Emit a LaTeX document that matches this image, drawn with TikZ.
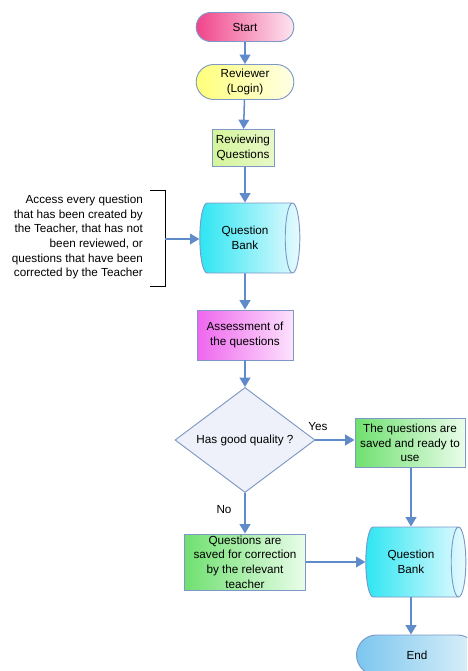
\documentclass[tikz,border=0pt]{standalone}
\usepackage{fontspec}
\setmainfont{Liberation Sans}
\usepackage{tikz}
\usetikzlibrary{shapes}
\usetikzlibrary{arrows.meta}

\definecolor{flowblue}{HTML}{5F8BCB}
\definecolor{edgeblue}{HTML}{7D98C6}
\definecolor{startL}{HTML}{F0448A}
\definecolor{startR}{HTML}{FDE6EF}
\definecolor{loginL}{HTML}{FFFF7A}
\definecolor{loginR}{HTML}{FFFFE6}
\definecolor{reviewL}{HTML}{D4F59A}
\definecolor{reviewR}{HTML}{E8F8C8}
\definecolor{bankL}{HTML}{2EE6F2}
\definecolor{bankR}{HTML}{E6FAFF}
\definecolor{assessL}{HTML}{EE66EE}
\definecolor{assessR}{HTML}{FDE2FD}
\definecolor{greenL}{HTML}{6FE06F}
\definecolor{greenR}{HTML}{EAFDEA}
\definecolor{endL}{HTML}{7CC6EE}
\definecolor{endR}{HTML}{DDF1FA}
\definecolor{askfill}{HTML}{EEF1FA}
\tikzset{
  every node/.style={font=\fontsize{10}{12.5}\selectfont},
  flow/.style={draw=flowblue, line width=1.3pt, -{Triangle[length=2.8mm,width=3.2mm]}},
  boxbase/.style={draw=edgeblue, line width=0.8pt, align=center, inner sep=1pt},
  terminal/.style={boxbase, rounded rectangle},
  stepbox/.style={boxbase, rectangle},
  store/.style={boxbase, cylinder, shape aspect=0.57,
    left color=bankL, right color=bankR},
  decision/.style={boxbase, diamond, aspect=1.33, fill=askfill},
}

\begin{document}
\begin{tikzpicture}[x=0.03cm,y=-0.03cm]
	\clip (0,0) rectangle (467,671);
	\useasboundingbox (0,0) rectangle (467,671);
    % main column
    \node[terminal, minimum width=3cm, minimum height=0.87cm,
      left color=startL, right color=startR] (start) at (245,27) {Start};
    \node[terminal, minimum width=3cm, minimum height=1.05cm,
      left color=loginL, right color=loginR] (login) at (245,82) {Reviewer\\(Login)};
    \node[stepbox, minimum width=1.86cm, minimum height=1.11cm,
      left color=reviewL, right color=reviewR] (review) at (243,148) {Reviewing\\Questions};
    \node[store, minimum width=2.1cm, minimum height=3cm] (bank) at (245,238) {Question\\Bank};
    \node[stepbox, minimum width=2.88cm, minimum height=1.5cm,
      left color=assessL, right color=assessR] (assess) at (245,335) {Assessment of\\the questions};
    \node[decision, minimum width=4.2cm, minimum height=3.15cm, inner sep=0pt] (good) at (245,440) {Has good quality ?};
    % branches
    \node[stepbox, minimum width=3.3cm, minimum height=1.47cm,
      left color=greenL, right color=greenR] (saved) at (410,443) {The questions are\\saved and ready to\\use};
    \node[stepbox, minimum width=3.63cm, minimum height=1.68cm,
      left color=greenL, right color=greenR] (fix) at (245,562) {Questions are\\saved for correction\\by the relevant\\teacher};
    \node[store, minimum width=2.1cm, minimum height=3cm] (bank2) at (411,562) {Question\\Bank};
    \node[terminal, minimum width=3.7cm, minimum height=1.2cm,
      left color=endL, right color=endR] (end) at (417,655) {End};
    % note on the left
    \node[align=right, anchor=east] (note) at (147,237) {Access every question\\that has been created by\\the Teacher, that has not\\been reviewed, or\\questions that have been\\corrected by the Teacher};
    \coordinate (brtop) at (165,190);
    \coordinate (brbot) at (165,286);
    \coordinate (brmid) at (165,239);
    \draw[line width=0.8pt] ([xshift=-0.45cm]brtop) -- (brtop) -- (brbot) -- ([xshift=-0.45cm]brbot);
    % connectors
    \draw[flow] (start) -- (login);
    \draw[flow] (login) -- (review);
    \draw[flow] (review.south -| bank.north) -- (bank.north);
    \draw[flow] (brmid) -- (brmid -| bank.west);
    \draw[flow] (bank.south) -- (assess);
    \draw[flow] (assess) -- (good);
    \draw[flow] (good.east) -- (good.east -| saved.west);
    \draw[flow] (saved.south -| bank2.north) -- (bank2.north);
    \draw[flow] (good.south) -- (fix);
    \draw[flow] (fix.east) -- (bank2.west);
    \draw[flow] (bank2.south) -- (bank2.south |- end.north);
    \draw[color=black] (318,427) node (yes) {Yes};
    \draw[color=black] (224,510) node (no) {No};
\end{tikzpicture}
\end{document}
